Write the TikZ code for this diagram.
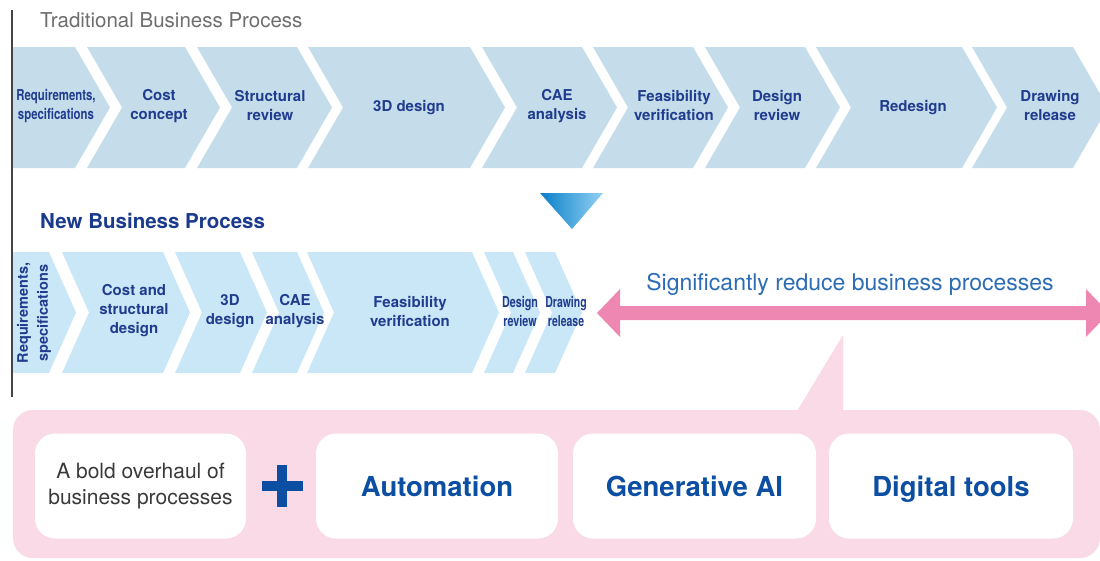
\documentclass[tikz,border=0pt]{standalone}
\usepackage{fontspec}
\setmainfont{TeX Gyre Heros}
\usepackage{graphicx}
\usetikzlibrary{calc}
\definecolor{chevA}{HTML}{C5DDEB}
\definecolor{chevB}{HTML}{C9E7F7}
\definecolor{chevtxt}{HTML}{203C8E}
\definecolor{titlegray}{HTML}{6E6E6E}
\definecolor{navy}{HTML}{1A3A8C}
\definecolor{pinkarrow}{HTML}{EE88B3}
\definecolor{pinkbg}{HTML}{F9DAE6}
\definecolor{boldblue}{HTML}{0B4EA2}
\definecolor{midblue}{HTML}{2B6CB5}
\definecolor{darktxt}{HTML}{3A3A3A}
\definecolor{triL}{HTML}{0A7FC8}
\definecolor{triR}{HTML}{93D1F3}
\definecolor{rulegray}{HTML}{444444}
% #1 fill, #2 left x, #3 right x, #4 top y, #5 bottom y, #6 depth
\newcommand\chevfig[6]{%
  \fill[#1] (#2,#4) -- (#3,#4) -- ({#3+#6},{(#4+#5)/2}) -- (#3,#5) -- (#2,#5) -- ({#2+#6},{(#4+#5)/2}) -- cycle;}
\newcommand\cnd[2]{\scalebox{#1}[1]{#2}}
\begin{document}
\begin{tikzpicture}[x=1pt,y=-1pt,
  chevtext/.style={font=\fontsize{15}{19}\selectfont\bfseries, text=chevtxt, align=center, inner sep=0pt},
  sidetext/.style={font=\fontsize{14.5}{20}\selectfont\bfseries, text=chevtxt, align=center, inner sep=0pt, rotate=90},
  wbox/.style={fill=white, rounded corners=20pt, minimum height=105pt, inner sep=0pt},
  bigtext/.style={font=\fontsize{27.5}{32}\selectfont\bfseries, text=boldblue, text height=20pt, text depth=0pt}]
\useasboundingbox (0,0) rectangle (1100,560);
\clip (0,0) rectangle (1100,560);

% ---------- titles ----------
\node[anchor=base west, inner sep=0pt, font=\fontsize{20.5}{24}\selectfont, text=titlegray] (trad) at (40,27) {Traditional Business Process};
\node[anchor=base west, inner sep=0pt, font=\fontsize{20.5}{24}\selectfont\bfseries, text=navy] (newp) at (40,228) {New Business Process};

% ---------- traditional row ----------
\fill[chevA] (13,47) -- (75,47) -- (110,107.5) -- (75,168) -- (13,168) -- cycle;
\chevfig{chevA}{87}{185}{47}{168}{35}
\chevfig{chevA}{197}{297}{47}{168}{35}
\chevfig{chevA}{308}{470}{47}{168}{35}
\chevfig{chevA}{482}{582}{47}{168}{35}
\chevfig{chevA}{593}{693}{47}{168}{35}
\chevfig{chevA}{705}{805}{47}{168}{35}
\chevfig{chevA}{816}{962}{47}{168}{35}
\chevfig{chevA}{972}{1073}{47}{168}{35}

\node[chevtext] (t1) at (56,106) {\cnd{0.76}{Requirements,}\\\cnd{0.76}{specifications}};
\node[chevtext] (t2) at (159,106) {Cost\\concept};
\node[chevtext] (t3) at (270,106) {Structural\\review};
\node[chevtext] (t4) at (409,108) {3D design};
\node[chevtext] (t5) at (557,106) {CAE\\analysis};
\node[chevtext] (t6) at (674,105) {Feasibility\\verification};
\node[chevtext] (t7) at (777,105) {Design\\review};
\node[chevtext] (t8) at (913,108) {Redesign};
\node[chevtext] (t9) at (1050,105) {Drawing\\release};

% ---------- down triangle ----------
\shade[left color=triL, right color=triR] (540,193) -- (603,193) -- (572,229) -- cycle;

% ---------- new row ----------
\fill[chevB] (13,252) -- (49,252) -- (76,312.5) -- (49,373) -- (13,373) -- cycle;
\chevfig{chevB}{62}{163}{252}{373}{27}
\chevfig{chevB}{175}{240}{252}{373}{27}
\chevfig{chevB}{252}{297}{252}{373}{27}
\chevfig{chevB}{307}{472}{252}{373}{27}
\chevfig{chevB}{484}{513}{252}{373}{27}
\chevfig{chevB}{525}{555}{252}{373}{27}

\node[sidetext] (n1) at (34,313) {Requirements,\\specifications};
\node[chevtext] (n2) at (134,311) {Cost and\\structural\\design};
\node[chevtext] (n3) at (230,311) {3D\\design};
\node[chevtext] (n4) at (295,311) {CAE\\analysis};
\node[chevtext] (n5) at (410,311) {Feasibility\\verification};
\node[chevtext] (n6) at (520,311) {\cnd{0.72}{Design}\\\cnd{0.72}{review}};
\node[chevtext] (n7) at (566,311) {\cnd{0.70}{Drawing}\\\cnd{0.70}{release}};

% ---------- vertical rule ----------
\draw[rulegray, line width=1.3pt] (12,10) -- (12,397);

% ---------- pink double arrow ----------
\fill[pinkarrow] (597,313) -- (620,289) -- (620,306) -- (1086,306) -- (1086,289) -- (1109,313)
  -- (1086,337) -- (1086,320) -- (620,320) -- (620,337) -- cycle;
\node[anchor=base, inner sep=0pt, font=\fontsize{23}{27}\selectfont, text=midblue] (reduce) at (850,290) {Significantly reduce business processes};

% ---------- pink callout ----------
\fill[pinkbg, rounded corners=20pt] (13,410) rectangle (1100,558);
\fill[pinkbg] (797,411) -- (843,335) -- (843,411) -- cycle;

\node[wbox, minimum width=211pt, font=\fontsize{21}{26}\selectfont, text=darktxt, align=center] (b1) at (140.5,486) {A bold overhaul of\\business processes};
\fill[boldblue] (277,465) rectangle (287,507);
\fill[boldblue] (262,481) rectangle (303,491);
\node[wbox, minimum width=242pt, bigtext] (b2) at (437,486) {Automation};
\node[wbox, minimum width=243pt, bigtext] (b3) at (694.5,486) {Generative AI};
\node[wbox, minimum width=244pt, bigtext] (b4) at (951,486) {Digital tools};
\end{tikzpicture}
\end{document}
